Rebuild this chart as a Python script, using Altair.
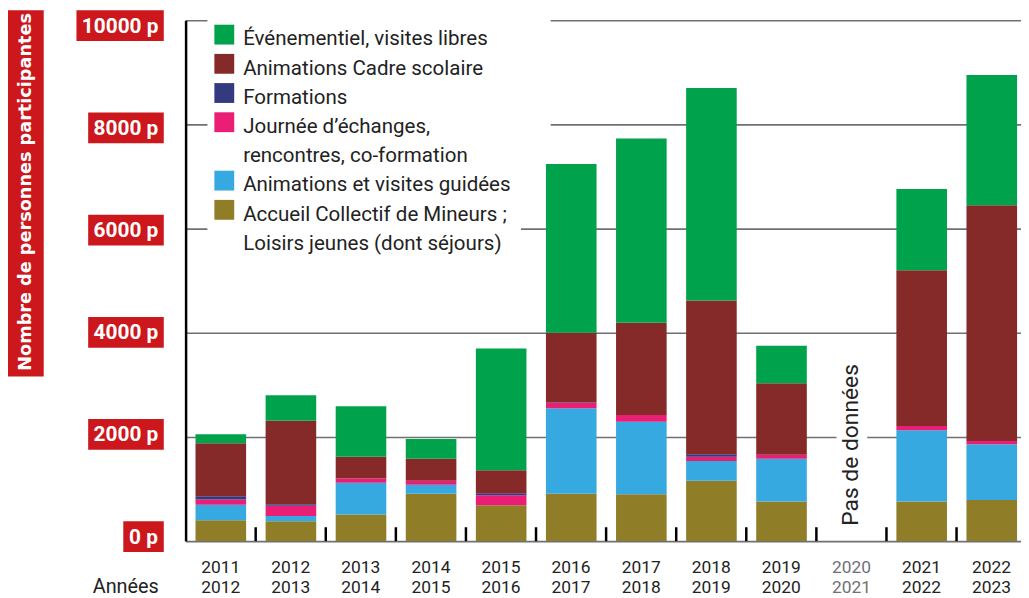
import json
import altair as alt
import pandas as pd

# ---------------- data ----------------
years = ["2011-2012", "2012-2013", "2013-2014", "2014-2015", "2015-2016", "2016-2017",
         "2017-2018", "2018-2019", "2019-2020", "2020-2021", "2021-2022", "2022-2023"]

series_names = [
    "Accueil Collectif de Mineurs ; Loisirs jeunes (dont séjours)",
    "Animations et visites guidées",
    "Journée d’échanges, rencontres, co-formation",
    "Formations",
    "Animations Cadre scolaire",
    "Événementiel, visites libres",
]
series_colors = ["#8F7E27", "#36A9E1", "#E91E74", "#333A7F", "#862A29", "#00A34B"]

accueil = [400, 380, 510, 910, 690, 910, 900, 1160, 760, None, 760, 790]
visites_guidees = [300, 100, 610, 170, 0, 1640, 1390, 380, 820, None, 1370, 1070]
journee = [100, 200, 80, 80, 190, 100, 130, 80, 80, None, 80, 60]
formations = [60, 30, 0, 0, 40, 10, 0, 50, 0, None, 0, 0]
cadre_scolaire = [1020, 1600, 420, 420, 440, 1340, 1770, 2950, 1370, None, 2990, 4530]
evenementiel = [170, 490, 970, 380, 2340, 3240, 3540, 4080, 720, None, 1560, 2500]

y_ticks = [0, 2000, 4000, 6000, 8000, 10000]
y_tick_labels = ["0 p", "2000 p", "4000 p", "6000 p", "8000 p", "10000 p"]

legend_lines = [
    ("Événementiel, visites libres", "Événementiel, visites libres"),
    ("Animations Cadre scolaire", "Animations Cadre scolaire"),
    ("Formations", "Formations"),
    ("Journée d’échanges,", "Journée d’échanges, rencontres, co-formation"),
    ("rencontres, co-formation", None),
    ("Animations et visites guidées", "Animations et visites guidées"),
    ("Accueil Collectif de Mineurs ;", "Accueil Collectif de Mineurs ; Loisirs jeunes (dont séjours)"),
    ("Loisirs jeunes (dont séjours)", None),
]

y_title = "Nombre de personnes participantes"
x_title = "Années"
no_data_text = "Pas de données"
no_data_year = "2020-2021"

# ---------------- layout ----------------
RED = "#CC171C"
TXT = "#222222"
STEP = 70.64
PLOT_W = 842
PLOT_H = 525
BAR_LO, BAR_HI = 10 / STEP, 61 / STEP

series_values = [accueil, visites_guidees, journee, formations, cadre_scolaire, evenementiel]
rows = []
for i, yr in enumerate(years):
    base = 0
    for name, vals in zip(series_names, series_values):
        v = vals[i]
        if not v:
            continue
        rows.append(dict(year=yr, serie=name, x0=i + BAR_LO, x1=i + BAR_HI, y0=base, y1=base + v))
        base += v
bars_df = pd.DataFrame(rows)

xscale = alt.Scale(domain=[0, PLOT_W / STEP], nice=False, zero=False)
yscale = alt.Scale(domain=[0, 10000], nice=False)
color = alt.Color("serie:N", scale=alt.Scale(domain=series_names, range=series_colors), legend=None)

missing_idx = years.index(no_data_year)
xaxis = alt.Axis(
    values=[i + 0.5 for i in range(len(years))], labels=False,
    ticks=False, tickSize=0, grid=False,
    domain=True, domainColor="black", domainWidth=2.5, title=None,
)
yaxis = alt.Axis(
    values=y_ticks, labels=False, ticks=False, tickSize=0, grid=True,
    gridColor="#707070", gridWidth=1.6,
    domain=True, domainColor="black", domainWidth=2.5, title=None,
)

# white masks (legend background and "Pas de données" background)
mask_df = pd.DataFrame({"px0": [22, 22, 656], "px1": [368, 338, 687],
                        "py0": [-10, 195, 345], "py1": [195, 245, 512]})
mask = alt.Chart(mask_df).mark_rect(color="white").encode(
    x=alt.X("px0:Q", scale=None, axis=None), x2="px1",
    y=alt.Y("py0:Q", scale=None, axis=None), y2="py1")

bars = alt.Chart(bars_df).mark_rect().encode(
    x=alt.X("x0:Q", scale=xscale, axis=xaxis), x2="x1",
    y=alt.Y("y0:Q", scale=yscale, axis=yaxis), y2="y1",
    color=color)

tick_df = pd.DataFrame({"b": list(range(1, len(years)))})
ticks = alt.Chart(tick_df).mark_rule(color="black", strokeWidth=2.5).encode(
    x=alt.X("b:Q", scale=xscale, axis=None), y=alt.value(511), y2=alt.value(525))

# x category labels (two lines each)
xl_df = pd.DataFrame({
    "xc": [i + 0.5 for i in range(len(years))],
    "l1": [y.split("-")[0] for y in years],
    "l2": [y.split("-")[1] for y in years],
    "col": ["#707070" if y == no_data_year else TXT for y in years],
})
xl1 = alt.Chart(xl_df).mark_text(font="Roboto", fontSize=17.5, align="center", baseline="alphabetic").encode(
    x=alt.X("xc:Q", scale=xscale, axis=None), y=alt.value(557.5), text="l1:N",
    color=alt.Color("col:N", scale=None))
xl2 = alt.Chart(xl_df).mark_text(font="Roboto", fontSize=17.5, align="center", baseline="alphabetic").encode(
    x=alt.X("xc:Q", scale=xscale, axis=None), y=alt.value(577), text="l2:N",
    color=alt.Color("col:N", scale=None))

# y tick label boxes
ylab_df = pd.DataFrame({"v": y_ticks, "lab": y_tick_labels})
ndig = ylab_df["lab"].str.len() - 2
bw = 11.8 * ndig + 17.0 + 12
ylab_df["bx0"] = -22 - bw
ylab_df["bx1"] = -22
ylab_df["tx"] = -22 - bw / 2
ylab_df["cy"] = 5.5 + (10000 - ylab_df["v"]) * 0.0515
ylab_df["cy0"] = ylab_df["cy"] - 15.5
ylab_df["cy1"] = ylab_df["cy"] + 15.5
ylab_box = alt.Chart(ylab_df).mark_rect(color=RED).encode(
    x=alt.X("bx0:Q", scale=None, axis=None), x2="bx1",
    y=alt.Y("cy0:Q", scale=None, axis=None), y2="cy1")
ylab_txt = alt.Chart(ylab_df).mark_text(
    font="Roboto", fontSize=21, fontWeight="bold", color="white",
    align="center", baseline="middle", dy=1).encode(
    x=alt.X("tx:Q", scale=None, axis=None),
    y=alt.Y("cy:Q", scale=None, axis=None), text="lab:N")

one = pd.DataFrame({"t": [y_title]})
title_box = alt.Chart(one).mark_rect(color=RED).encode(
    x=alt.value(-179), x2=alt.value(-143), y=alt.value(-10), y2=alt.value(359))
title_txt = alt.Chart(one).mark_text(
    font="DejaVu Sans", fontSize=17.8, fontWeight="bold", color="white",
    angle=270, align="center", baseline="middle").encode(
    x=alt.value(-161), y=alt.value(173), text="t:N")

# legend
sw_rows, tx_rows = [], []
for k, (line, serie) in enumerate(legend_lines):
    base = 25.3 + 29.43 * k
    tx_rows.append({"line": line, "base": base})
    if serie is not None:
        sw_rows.append({"serie": serie, "top": base - 20.8, "bot": base - 0.8})
sw_df = pd.DataFrame(sw_rows)
tx_df = pd.DataFrame(tx_rows)
legend_sw = alt.Chart(sw_df).mark_rect().encode(
    x=alt.value(29), x2=alt.value(49),
    y=alt.Y("top:Q", scale=None, axis=None), y2="bot", color=color)
legend_tx = alt.Chart(tx_df).mark_text(
    font="Roboto", fontSize=20.7, color=TXT, align="left", baseline="alphabetic").encode(
    x=alt.value(58), y=alt.Y("base:Q", scale=None, axis=None), text="line:N")

annees = alt.Chart(pd.DataFrame({"t": [x_title]})).mark_text(
    font="Roboto", fontSize=20, color=TXT, align="right", baseline="alphabetic").encode(
    x=alt.value(-27), y=alt.value(577), text="t:N")

nd = alt.Chart(pd.DataFrame({"t": [no_data_text], "xc": [missing_idx + 0.5]})).mark_text(
    font="Roboto", fontSize=23, color=TXT, angle=270, align="center", baseline="middle").encode(
    x=alt.X("xc:Q", scale=xscale, axis=None), y=alt.value(428), text="t:N")

chart = alt.layer(
    mask, bars, ticks, xl1, xl2, ylab_box, ylab_txt, title_box, title_txt,
    legend_sw, legend_tx, annees, nd
).properties(width=PLOT_W, height=PLOT_H, padding=0).configure_view(stroke=None)

chart.save("out.html", embed_options={"renderer": "svg", "actions": False})
